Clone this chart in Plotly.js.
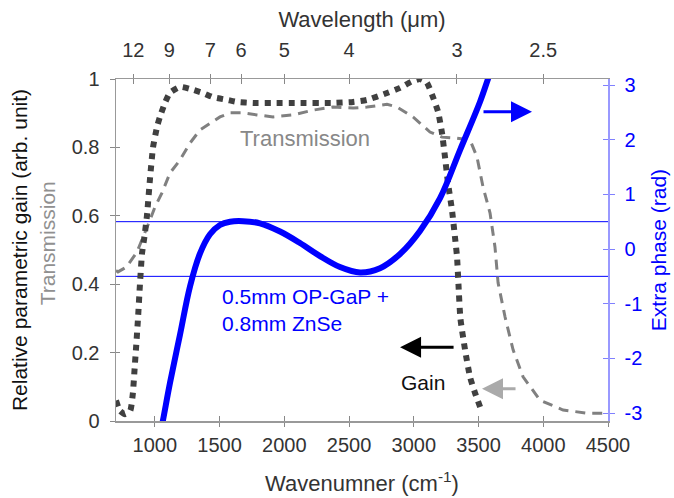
<!DOCTYPE html>
<html>
<head>
<meta charset="utf-8">
<script src="https://cdn.plot.ly/plotly-3.0.1.min.js"></script>
<style>html,body{margin:0;padding:0;background:#fff;}#chart{width:674px;height:498px;}</style>
</head>
<body>
<div id="chart"></div>
<script>
// Wavenumber (cm^-1) axis values and curves
var gainX = [700, 730, 770, 810, 830, 845, 856, 870, 885, 901, 920, 939, 963, 986, 1017, 1040, 1078, 1117, 1194, 1272, 1372, 1449, 1557, 1635, 1758, 1900, 2100, 2376, 2531, 2639, 2793, 2894, 2980, 3048, 3100, 3140, 3187, 3218, 3241, 3264, 3295, 3318, 3334, 3345, 3360, 3396, 3434, 3473, 3527];
var gainY = [0.06, 0.03, 0.02, 0.03, 0.08, 0.16, 0.22, 0.30, 0.40, 0.49, 0.54, 0.60, 0.71, 0.80, 0.86, 0.89, 0.93, 0.96, 0.977, 0.971, 0.959, 0.947, 0.939, 0.933, 0.930, 0.930, 0.930, 0.930, 0.933, 0.939, 0.959, 0.974, 0.992, 1.0, 0.99, 0.955, 0.905, 0.842, 0.772, 0.696, 0.617, 0.538, 0.48, 0.40, 0.30, 0.208, 0.129, 0.082, 0.026];

var transX = [700, 715, 780, 862, 963, 1001, 1055, 1117, 1194, 1272, 1349, 1426, 1503, 1581, 1681, 1789, 1913, 2067, 2222, 2376, 2531, 2639, 2793, 2870, 2994, 3125, 3218, 3334, 3434, 3488, 3535, 3589, 3627, 3651, 3705, 3767, 3844, 3975, 4153, 4338, 4500];
var transY = [0.44, 0.436, 0.45, 0.494, 0.588, 0.626, 0.667, 0.725, 0.763, 0.813, 0.851, 0.871, 0.889, 0.901, 0.901, 0.895, 0.889, 0.895, 0.909, 0.918, 0.915, 0.918, 0.926, 0.918, 0.889, 0.845, 0.830, 0.827, 0.822, 0.772, 0.684, 0.608, 0.509, 0.404, 0.304, 0.208, 0.129, 0.061, 0.032, 0.023, 0.023];

var phaseX = [1040, 1063, 1117, 1194, 1272, 1349, 1426, 1503, 1581, 1681, 1812, 1967, 2121, 2276, 2430, 2585, 2739, 2894, 3048, 3203, 3357, 3511, 3573, 3610];
var phaseY = [-3.4, -3.13, -2.45, -1.57, -0.68, -0.08, 0.27, 0.44, 0.50, 0.51, 0.47, 0.32, 0.11, -0.13, -0.33, -0.43, -0.35, -0.09, 0.33, 0.93, 1.81, 2.69, 3.11, 3.36];

var phaseRefLines = [0.5, -0.5];

var wnTicks = [1000, 1500, 2000, 2500, 3000, 3500, 4000, 4500];
var wavelengthLabels = [12, 9, 7, 6, 5, 4, 3, 2.5];
var gainTicks = [0, 0.2, 0.4, 0.6, 0.8, 1];
var phaseTicks = [-3, -2, -1, 0, 1, 2, 3];

var wlTickVals = wavelengthLabels.map(function (l) { return 10000 / l; });
var wlTickText = wavelengthLabels.map(function (l) { return String(l); });
var phaseTickText = phaseTicks.map(function (v) { return String(v); });

var FONT = 'Liberation Sans, Arial, sans-serif';
var XR = [700, 4500];
var YR = [0, 1];
var Y2R = [-3.146, 3.11];

var traces = [
  {x: transX, y: transY, xaxis: 'x', yaxis: 'y', mode: 'lines', line: {color: '#808080', width: 3, dash: '10px,7px'}, hoverinfo: 'skip', showlegend: false},
  {x: gainX, y: gainY, xaxis: 'x', yaxis: 'y', mode: 'lines', line: {color: '#404040', width: 6, dash: '6px,6px', shape: 'spline', smoothing: 0.5}, hoverinfo: 'skip', showlegend: false},
  {x: phaseX, y: phaseY, xaxis: 'x', yaxis: 'y2', mode: 'lines', line: {color: '#0000ff', width: 6, shape: 'spline', smoothing: 1}, hoverinfo: 'skip', showlegend: false},
  {x: [XR[0]], y: [0], xaxis: 'x2', yaxis: 'y', mode: 'none', hoverinfo: 'skip', showlegend: false},
  {x: [XR[0]], y: [0], xaxis: 'x3', yaxis: 'y3', mode: 'none', hoverinfo: 'skip', showlegend: false},
  {x: [XR[0]], y: [0], xaxis: 'x4', yaxis: 'y4', mode: 'none', hoverinfo: 'skip', showlegend: false}
];

var tickFont = {family: FONT, size: 20, color: '#333333'};
var blueFont = {family: FONT, size: 20, color: '#0000ff'};

var layout = {
  width: 674, height: 498,
  margin: {l: 116, r: 66, t: 79, b: 77, pad: 0},
  paper_bgcolor: '#ffffff', plot_bgcolor: '#ffffff',
  font: {family: FONT, size: 20, color: '#333333'},
  showlegend: false,
  hovermode: false,
  xaxis: {
    range: XR, tickvals: wnTicks, ticks: 'outside', ticklen: 4, tickcolor: '#888888', tickwidth: 1,
    showline: true, linecolor: '#999999', linewidth: 1.5, showgrid: false, zeroline: false,
    tickfont: tickFont, ticklabelstandoff: 1,
    title: {text: 'Wavenumner (cm<sup>-1</sup>)', font: {family: FONT, size: 22, color: '#333333'}, standoff: 21}
  },
  xaxis2: {
    range: XR, overlaying: 'x', side: 'top', anchor: 'y', tickvals: wlTickVals, ticktext: wlTickText,
    ticks: 'outside', ticklen: 4, tickcolor: '#888888', tickwidth: 1,
    showline: true, linecolor: '#999999', linewidth: 1.5, showgrid: false, zeroline: false,
    tickfont: tickFont, ticklabelstandoff: 9,
    title: {text: 'Wavelength (μm)', font: {family: FONT, size: 22, color: '#333333'}, standoff: 5}
  },
  xaxis3: {
    range: XR, overlaying: 'x', side: 'bottom', anchor: 'y', tickvals: wnTicks, ticks: 'inside', ticklen: 5,
    tickcolor: '#888888', tickwidth: 1, showticklabels: false, showline: false, showgrid: false, zeroline: false
  },
  xaxis4: {
    range: XR, overlaying: 'x', side: 'top', anchor: 'y', tickvals: wlTickVals, ticks: 'inside', ticklen: 5,
    tickcolor: '#888888', tickwidth: 1, showticklabels: false, showline: false, showgrid: false, zeroline: false
  },
  yaxis: {
    range: YR, tickvals: gainTicks, ticks: 'outside', ticklen: 5, tickcolor: '#888888', tickwidth: 1,
    showline: true, linecolor: '#999999', linewidth: 1.5, showgrid: false, zeroline: false,
    tickfont: tickFont, ticklabelstandoff: 6
  },
  yaxis2: {
    range: Y2R, overlaying: 'y', side: 'right', anchor: 'x', tickvals: phaseTicks, ticktext: phaseTickText,
    ticks: 'outside', ticklen: 5, tickcolor: '#8080ff', tickwidth: 1,
    showline: true, linecolor: '#9999ff', linewidth: 1.5, showgrid: false, zeroline: false,
    tickfont: blueFont, ticklabelstandoff: 6,
    title: {text: 'Extra phase (rad)', font: {family: FONT, size: 21, color: '#0000ff'}, standoff: 10}
  },
  yaxis3: {
    range: YR, overlaying: 'y', side: 'left', anchor: 'x', tickvals: gainTicks, ticks: 'inside', ticklen: 4,
    tickcolor: '#888888', tickwidth: 1, showticklabels: false, showline: false, showgrid: false, zeroline: false
  },
  yaxis4: {
    range: Y2R, overlaying: 'y', side: 'right', anchor: 'x', tickvals: phaseTicks, ticks: 'inside', ticklen: 5,
    tickcolor: '#8080ff', tickwidth: 1, showticklabels: false, showline: false, showgrid: false, zeroline: false
  },
  shapes: phaseRefLines.map(function (v) {
    return {type: 'line', xref: 'paper', yref: 'y2', x0: 0, x1: 1, y0: v, y1: v, line: {color: '#0000ff', width: 1}, layer: 'below'};
  }),
  annotations: [
    {xref: 'paper', yref: 'paper', x: -0.197, y: 0.50, text: 'Relative parametric gain (arb. unit)', textangle: -90,
     showarrow: false, font: {family: FONT, size: 21, color: '#111111'}, xanchor: 'center', yanchor: 'middle'},
    {xref: 'paper', yref: 'paper', x: -0.140, y: 0.52, text: 'Transmission', textangle: -90,
     showarrow: false, font: {family: FONT, size: 21, color: '#909090'}, xanchor: 'center', yanchor: 'middle'},
    {xref: 'x', yref: 'y', x: 2160, y: 0.827, text: 'Transmission', showarrow: false,
     font: {family: FONT, size: 22, color: '#888888'}, xanchor: 'center', yanchor: 'middle'},
    {xref: 'x', yref: 'y', x: 1503, y: 0.325, text: '0.5mm OP-GaP +<br>0.8mm ZnSe', showarrow: false, align: 'left',
     font: {family: FONT, size: 21, color: '#0000ff'}, xanchor: 'left', yanchor: 'middle'},
    {xref: 'x', yref: 'y', x: 3071, y: 0.114, text: 'Gain', showarrow: false,
     font: {family: FONT, size: 21, color: '#111111'}, xanchor: 'center', yanchor: 'middle'},
    {xref: 'x', yref: 'y', x: 3913, y: 0.904, ax: -50, ay: 0, text: '', showarrow: true,
     arrowhead: 2, arrowsize: 1.4, arrowwidth: 3, arrowcolor: '#0000ff'},
    {xref: 'x', yref: 'y', x: 2894, y: 0.216, ax: 55, ay: 0, text: '', showarrow: true,
     arrowhead: 2, arrowsize: 1.4, arrowwidth: 3, arrowcolor: '#000000'},
    {xref: 'x', yref: 'y', x: 3527, y: 0.094, ax: 35, ay: 0, text: '', showarrow: true,
     arrowhead: 2, arrowsize: 1.4, arrowwidth: 3, arrowcolor: '#aaaaaa'}
  ]
};

Plotly.newPlot('chart', traces, layout, {staticPlot: true, displayModeBar: false});
</script>
</body>
</html>
